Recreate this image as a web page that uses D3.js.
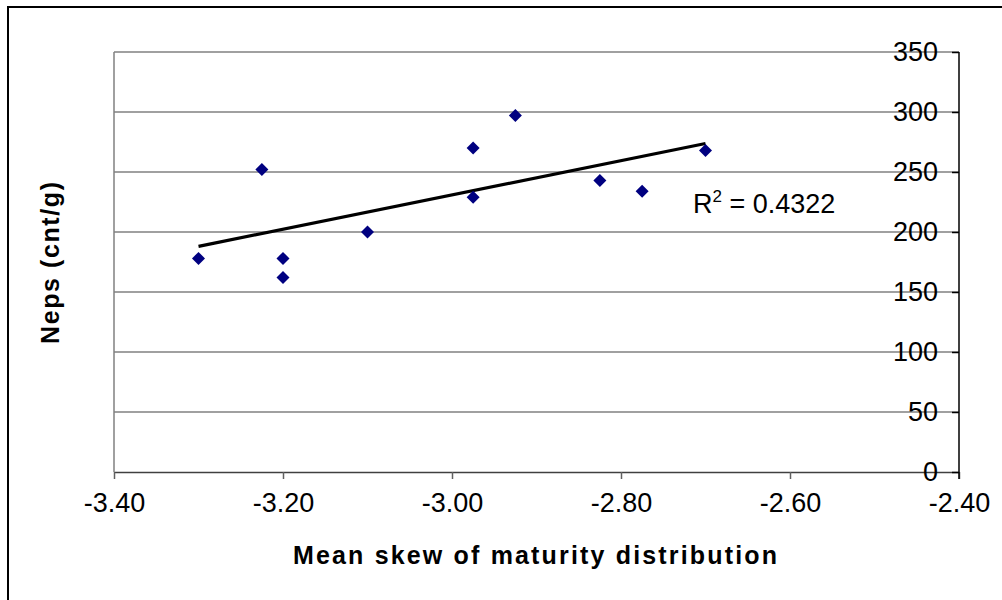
<!DOCTYPE html>
<html>
<head>
<meta charset="utf-8">
<title>Neps vs maturity skew</title>
<script src="https://d3js.org/d3.v7.min.js"></script>
<style>
  body { margin: 0; background: #fff; }
  text { font-family: "Liberation Sans", Arial, sans-serif; }
</style>
</head>
<body>
<div id="chart"></div>
<script>
// data
var skew = [-3.30, -3.225, -3.20, -3.20, -3.10, -2.975, -2.975, -2.925, -2.825, -2.775, -2.70];
var neps = [178, 252, 178, 162, 200, 270, 229, 297, 243, 234, 268];
var xTicks = [-3.4, -3.2, -3.0, -2.8, -2.6, -2.4];
var yTicks = [0, 50, 100, 150, 200, 250, 300, 350];
var r2Label = "0.4322";

var W = 1002, H = 600;
var plot = {left: 114, right: 959, top: 52, bottom: 472};

var svg = d3.select("#chart").append("svg")
    .attr("width", W).attr("height", H);

svg.append("rect").attr("width", W).attr("height", H).attr("fill", "#fff");
// chart border (runs off the right and bottom edges)
svg.append("rect")
    .attr("x", 8).attr("y", 7).attr("width", 1010).attr("height", 620)
    .attr("fill", "none").attr("stroke", "#000").attr("stroke-width", 2);

var x = d3.scaleLinear().domain([-3.4, -2.4]).range([plot.left, plot.right]);
var y = d3.scaleLinear().domain([0, 350]).range([plot.bottom, plot.top]);

// gridlines
svg.append("g").selectAll("line").data(yTicks.filter(function(d){ return d > 0; }))
  .enter().append("line")
    .attr("x1", plot.left).attr("x2", plot.right)
    .attr("y1", function(d){ return y(d); }).attr("y2", function(d){ return y(d); })
    .attr("stroke", "#808080").attr("stroke-width", 1.5);

// left border of plot area
svg.append("line")
    .attr("x1", plot.left).attr("x2", plot.left)
    .attr("y1", plot.top).attr("y2", plot.bottom)
    .attr("stroke", "#808080").attr("stroke-width", 1.5);

// x axis
var xAxis = svg.append("g")
    .attr("transform", "translate(0," + plot.bottom + ")")
    .call(d3.axisBottom(x).tickValues(xTicks).tickSize(7).tickSizeOuter(0).tickPadding(14)
        .tickFormat(function(d){ return d.toFixed(2); }));
xAxis.select(".domain").attr("stroke", "#404040").attr("stroke-width", 1.5);
xAxis.selectAll(".tick line").attr("stroke", "#606060").attr("stroke-width", 1.5);
xAxis.selectAll(".tick text").attr("font-size", 27).attr("fill", "#000")
    .attr("font-family", "Liberation Sans, Arial, sans-serif");

// y axis on the right side, labels inside
var yAxis = svg.append("g")
    .attr("transform", "translate(" + plot.right + ",0)")
    .call(d3.axisLeft(y).tickValues(yTicks).tickSize(7).tickSizeOuter(0).tickPadding(14));
yAxis.select(".domain").remove();
yAxis.append("line")
    .attr("x1", 0).attr("x2", 0).attr("y1", plot.top).attr("y2", plot.bottom + 7)
    .attr("stroke", "#000").attr("stroke-width", 1.5);
yAxis.selectAll(".tick line").attr("stroke", "#000").attr("stroke-width", 1.5);
yAxis.selectAll(".tick text").attr("font-size", 27).attr("fill", "#000")
    .attr("font-family", "Liberation Sans, Arial, sans-serif");

// linear trendline computed from the points
var mx = d3.mean(skew), my = d3.mean(neps);
var sxy = d3.sum(skew, function(v, i){ return (v - mx) * (neps[i] - my); });
var sxx = d3.sum(skew, function(v){ return (v - mx) * (v - mx); });
var slope = sxy / sxx, icpt = my - slope * mx;
var ext = d3.extent(skew);
svg.append("path")
    .datum(ext)
    .attr("fill", "none").attr("stroke", "#000").attr("stroke-width", 3.2)
    .attr("d", d3.line()
        .x(function(d){ return x(d); })
        .y(function(d){ return y(slope * d + icpt); }));

// points
svg.append("g").selectAll("path").data(skew)
  .enter().append("path")
    .attr("transform", function(d, i){ return "translate(" + x(d) + "," + y(neps[i]) + ") rotate(45)"; })
    .attr("d", d3.symbol().type(d3.symbolSquare).size(85))
    .attr("fill", "#000080");

// R squared label
var r2 = svg.append("text").attr("x", 693).attr("y", 213).attr("font-size", 27).attr("fill", "#000");
r2.append("tspan").text("R");
r2.append("tspan").attr("dy", -11).attr("font-size", 17).text("2");
r2.append("tspan").attr("dy", 11).text(" = " + r2Label);

// axis titles
svg.append("text")
    .attr("x", 535).attr("y", 564)
    .attr("text-anchor", "middle")
    .attr("font-size", 25).attr("font-weight", "bold")
    .attr("textLength", 484).attr("lengthAdjust", "spacing")
    .text("Mean skew of maturity distribution");

svg.append("text")
    .attr("transform", "translate(59,263) rotate(-90)")
    .attr("text-anchor", "middle")
    .attr("font-size", 25).attr("font-weight", "bold")
    .attr("textLength", 162).attr("lengthAdjust", "spacing")
    .text("Neps (cnt/g)");
</script>
</body>
</html>
